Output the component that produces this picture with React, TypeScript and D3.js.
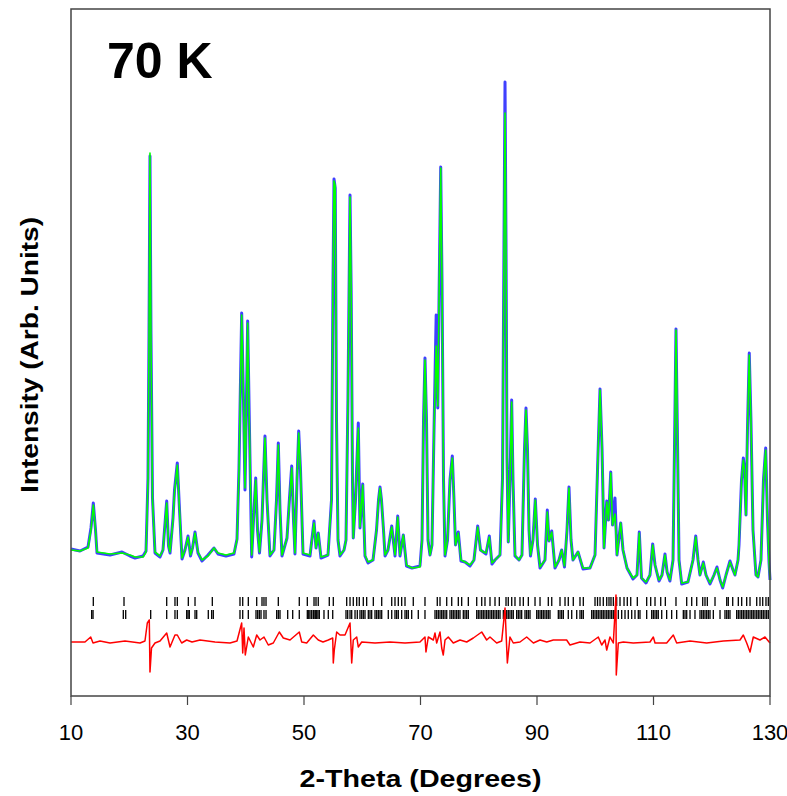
import React from "react";
import * as d3 from "d3";

// ---------- data (2-theta in degrees, intensity in arbitrary units) ----------
// rows: [2theta, observed, calculated]
const profile: [number, number, number][] = [
  [10.0,147,146],[11.55,145,145],[12.92,149,148],[13.43,168,166],[13.83,193,191],[14.21,166,166],[14.46,143,144],
  [16.7,141,142],[18.76,144,143],[20.13,140,141],[20.99,138,139],[22.36,140,139],[22.88,145,144],[23.22,218,216],
  [23.39,360,354],[23.56,540,543],[23.73,362,356],[23.99,198,196],[24.42,143,144],[25.28,139,140],[25.79,146,146],
  [26.43,195,193],[26.74,150,151],[27.0,143,144],[27.51,178,176],[27.77,206,204],[28.25,233,231],[28.63,186,186],
  [29.06,137,138],[29.57,146,146],[30.09,160,159],[30.52,140,141],[30.86,148,148],[31.29,164,163],[31.8,143,144],
  [32.49,135,136],[33.52,141,140],[34.55,148,148],[35.24,142,143],[36.61,140,141],[37.98,142,143],[38.5,157,156],
  [38.84,228,226],[39.3,383,381],[39.61,296,296],[39.87,206,208],[40.13,298,296],[40.33,375,373],[40.64,266,266],
  [41.02,139,141],[41.33,176,176],[41.71,218,216],[42.02,166,166],[42.36,143,144],[42.79,176,176],[43.3,260,258],
  [43.65,196,196],[44.16,140,141],[44.85,146,146],[45.28,196,196],[45.59,253,251],[45.88,186,186],[46.22,140,141],
  [47.08,158,158],[47.51,198,196],[47.89,230,228],[48.2,176,176],[48.45,142,143],[48.8,216,216],[49.09,265,263],
  [49.4,226,226],[49.83,142,143],[51.03,140,141],[51.72,175,173],[52.06,148,148],[52.45,163,163],[52.92,138,139],
  [54.12,141,141],[54.72,196,196],[54.98,416,416],[55.15,517,515],[55.36,508,510],[55.58,276,276],[55.84,156,156],
  [56.18,140,141],[56.87,146,146],[57.21,156,156],[57.55,298,296],[57.9,501,499],[58.1,404,406],[58.33,214,216],
  [58.46,158,158],[58.84,196,196],[59.32,273,268],[59.61,168,169],[60.08,212,211],[60.47,140,141],[60.99,133,134],
  [61.85,136,136],[62.45,166,166],[62.79,196,196],[63.05,209,208],[63.3,196,196],[63.65,166,166],[63.91,140,141],
  [64.42,146,146],[65.06,170,169],[65.63,140,141],[66.09,180,179],[66.48,140,141],[67.05,161,161],[67.6,130,131],
  [68.54,128,128],[69.91,130,129],[70.26,156,156],[70.52,276,276],[70.77,338,336],[71.03,276,276],[71.29,156,156],
  [71.63,141,141],[71.97,151,151],[72.32,266,266],[72.69,381,350],[72.97,288,290],[73.18,396,396],[73.47,529,528],
  [73.69,416,416],[73.95,216,216],[74.21,140,141],[74.64,156,156],[75.06,216,216],[75.46,240,238],[75.75,196,196],
  [76.01,151,151],[76.49,164,163],[76.95,135,136],[77.64,134,134],[78.5,130,131],[79.18,136,136],[79.82,170,169],
  [80.3,146,146],[80.78,144,144],[81.24,142,143],[81.81,160,159],[82.27,132,133],[82.79,136,136],[83.65,141,141],
  [84.08,218,216],[84.33,452,446],[84.51,614,583],[84.68,452,446],[84.85,238,236],[85.07,154,154],[85.36,216,216],
  [85.65,296,294],[85.88,216,216],[86.22,140,141],[86.91,136,136],[87.42,141,141],[87.85,246,246],[88.11,288,286],
  [88.37,246,246],[88.63,166,166],[88.88,140,141],[89.31,156,156],[89.71,197,196],[90.09,151,151],[90.52,128,129],
  [91.37,136,136],[91.77,186,184],[92.06,155,155],[92.53,165,164],[93.09,128,129],[93.78,136,136],[94.24,146,146],
  [94.72,129,130],[95.15,166,166],[95.49,209,208],[95.84,156,156],[96.18,136,136],[97.04,144,144],[97.9,127,128],
  [99.1,128,128],[99.96,141,141],[100.39,226,226],[100.82,307,306],[101.17,246,246],[101.51,148,148],[101.97,195,194],
  [102.28,176,176],[102.66,224,223],[102.96,171,171],[103.39,198,182],[103.73,141,141],[104.37,173,173],[104.76,146,146],
  [105.45,128,128],[106.48,117,118],[107.17,121,121],[107.56,164,163],[107.94,118,118],[108.71,113,114],[109.4,121,121],
  [109.86,152,151],[110.26,131,131],[110.94,115,116],[111.46,121,121],[111.97,142,141],[112.33,124,124],[112.82,115,116],
  [113.35,136,136],[113.6,246,246],[113.86,367,366],[114.12,256,256],[114.38,136,136],[114.84,112,113],[115.92,114,114],
  [116.78,136,136],[117.25,160,159],[117.64,136,136],[117.98,121,121],[118.55,134,133],[119.01,121,121],[119.7,112,113],
  [120.39,121,121],[120.9,129,128],[121.42,116,116],[121.88,108,109],[122.45,121,121],[123.13,135,134],[123.65,126,126],
  [123.99,121,121],[124.51,136,136],[124.68,151,151],[125.11,216,216],[125.42,238,236],[125.62,226,226],[125.88,181,181],
  [126.13,266,266],[126.44,343,341],[126.73,276,276],[127.08,166,166],[127.59,121,121],[127.94,119,119],[128.45,136,136],
  [128.88,216,216],[129.26,248,246],[129.57,176,176],[129.83,134,134],[130.0,116,116],
];

// difference curve: [2theta, obs - calc]
const difference: [number, number][] = [
  [10.0,0],[12.4,0],[13.38,5],[13.78,-1],[14.98,1],[16.7,-1],[19.27,1],[21.85,-1],[22.7,1],[23.1,19],[23.44,22],
  [23.56,-30],[23.82,-6],[24.42,-1],[25.28,1],[26.43,9],[27.0,-5],[27.85,7],[28.25,7],[29.0,-1],[29.86,2],[30.77,0],
  [32.15,2],[34.72,0],[37.3,-1],[38.5,1],[39.3,19],[39.48,-11],[39.7,14],[39.92,-13],[40.44,5],[41.3,-5],[41.88,7],
  [42.45,2],[43.13,5],[43.87,-3],[44.73,-1],[45.76,10],[46.45,4],[47.6,2],[49.19,10],[49.61,0],[50.46,-1],[51.6,7],
  [52.45,2],[53.26,0],[54.17,2],[54.93,4],[55.03,-21],[55.2,-8],[55.61,10],[56.18,7],[57.04,7],[57.9,19],[58.19,-21],
  [58.46,2],[59.05,5],[59.32,-5],[59.91,0],[62.19,-1],[64.76,0],[67.34,-1],[69.91,0],[70.77,5],[70.94,-10],[71.34,5],
  [72.2,2],[72.49,9],[72.78,-1],[73.35,10],[73.64,-6],[73.91,-13],[74.21,2],[74.77,5],[75.63,-1],[76.78,2],[77.93,0],
  [79.07,4],[80.51,10],[81.36,2],[81.93,5],[83.08,-1],[83.94,1],[84.51,34],[84.74,2],[84.91,-21],[85.36,5],[85.93,-1],
  [87.08,0],[88.23,5],[89.38,-1],[90.52,2],[91.67,0],[92.8,2],[95.09,2],[95.66,-3],[97.38,0],[99.1,-1],[100.52,5],
  [101.11,-3],[101.67,2],[101.97,-8],[102.53,5],[103.1,-1],[103.56,47],[103.61,-33],[103.96,-1],[104.82,0],[106.53,-1],
  [109.4,0],[109.97,5],[110.26,-1],[112.26,-1],[113.4,7],[113.98,-1],[116.27,1],[119.13,-1],[121.99,1],[124.85,2],
  [125.42,7],[126.0,-1],[126.57,-10],[127.13,5],[128.28,2],[129.14,5],[130.0,-1],
];

// Bragg reflection positions, phase 1 (upper row)
const braggPhase1: number[] = [
  13.83,19.1,26.43,27.85,28.25,30.14,31.29,34.26,39.01,39.48,40.44,41.88,42.79,43.13,43.48,45.59,49.19,50.57,51.72,
  52.06,52.45,54.34,55.03,57.33,57.9,58.46,59.05,59.49,60.18,60.76,61.9,63.34,65.06,65.62,66.19,66.77,67.34,68.76,
  70.77,72.88,73.35,74.5,75.36,76.49,77.07,78.21,79.65,80.51,81.07,81.93,82.79,83.53,84.68,85.07,85.66,86.22,87.08,
  87.65,88.51,89.66,90.52,91.94,92.53,93.95,94.81,95.37,96.23,97.38,97.95,99.96,100.39,100.82,101.38,101.97,102.36,
  102.7,103.1,103.68,104.25,104.94,105.5,106.09,107.22,108.83,109.52,110.26,111.24,112.03,113.86,115.7,116.56,117.42,
  118.45,118.84,119.24,120.56,122.57,122.84,123.6,124.56,125.14,126.0,126.57,127.72,128.28,128.75,129.31,129.71,
];

// Bragg reflection positions, phase 2 (lower row)
const braggPhase2: number[] = [
  13.55,13.78,18.98,19.39,23.68,26.43,27.85,28.25,29.86,30.09,30.31,31.29,31.58,33.57,34.15,34.43,39.01,39.48,40.44,
  41.76,42.05,42.33,42.62,43.13,43.48,45.31,45.59,45.88,47.2,48.06,49.19,50.57,50.81,51.03,51.32,51.6,51.72,51.94,
  52.18,52.4,52.63,53.43,54.17,54.93,57.21,57.5,57.9,58.19,58.76,59.15,59.61,59.91,60.18,60.47,61.04,61.33,61.62,
  62.19,62.48,62.76,63.05,63.34,64.47,65.06,65.62,65.91,66.19,66.77,67.34,67.63,67.91,68.49,69.62,70.77,72.49,72.78,
  73.06,73.35,73.64,73.91,74.21,74.5,75.06,75.36,75.63,75.92,76.21,76.49,76.78,77.35,77.64,77.93,78.21,79.65,79.92,
  80.21,80.51,80.78,81.07,81.36,81.64,81.93,82.22,82.5,82.79,83.08,83.36,83.65,84.22,84.8,85.07,85.36,85.66,85.93,
  86.51,86.79,87.08,87.37,87.94,88.23,88.51,88.8,89.95,90.22,90.52,90.8,91.08,91.37,91.67,91.94,92.23,93.66,93.95,
  94.24,94.52,95.37,95.96,96.82,97.38,97.67,97.95,99.39,99.67,99.96,100.25,100.52,100.82,101.11,101.38,101.67,101.97,
  102.24,102.53,102.82,103.1,103.39,103.96,104.54,105.11,105.67,106.26,106.82,107.39,107.68,108.83,109.69,109.97,
  110.26,110.55,110.82,111.41,112.26,113.12,113.98,115.12,115.41,115.7,116.27,117.12,117.98,118.28,118.55,118.84,
  119.13,119.41,119.7,120.27,121.42,122.27,122.57,122.84,123.13,124.28,124.56,124.85,125.14,125.42,125.71,126.0,
  126.27,126.57,126.86,127.13,127.42,127.72,127.99,128.28,128.57,128.85,129.14,129.43,129.71,
];

const xTicks: number[] = [10, 30, 50, 70, 90, 110, 130];
const xDomain: [number, number] = [10, 130];
const yDomain: [number, number] = [0, 687];
const tempLabel = "70 K";
const xTitle = "2-Theta (Degrees)";
const yTitle = "Intensity (Arb. Units)";

// ---------- layout ----------
const W = 787;
const H = 796;
const left = 71;
const right = 770;
const top = 9;
const bottom = 696;
const diffOffset = 54;
const font = "'Liberation Sans', Arial, Helvetica, sans-serif";

export default function App() {
  const x = d3.scaleLinear().domain(xDomain).range([left, right]);
  const y = d3.scaleLinear().domain(yDomain).range([bottom, top]);

  const obsLine = d3
    .line<[number, number, number]>()
    .x((d) => x(d[0]))
    .y((d) => y(d[1]));
  const calcLine = d3
    .line<[number, number, number]>()
    .x((d) => x(d[0]))
    .y((d) => y(d[2]));
  const diffLine = d3
    .line<[number, number]>()
    .x((d) => x(d[0]))
    .y((d) => y(diffOffset + d[1]));

  const row1 = [y(99), y(90)];
  const row2 = [y(86), y(77)];

  return (
    <svg
      width={W}
      height={H}
      style={{ position: "absolute", left: 0, top: 0, display: "block", background: "#fff" }}
    >
      <rect x={0} y={0} width={W} height={H} fill="#fff" />
      {/* Bragg markers */}
      <g stroke="#000" strokeWidth={1.3}>
        {braggPhase1.map((t, i) => (
          <line key={"a" + i} x1={x(t)} x2={x(t)} y1={row1[0]} y2={row1[1]} />
        ))}
        {braggPhase2.map((t, i) => (
          <line key={"b" + i} x1={x(t)} x2={x(t)} y1={row2[0]} y2={row2[1]} />
        ))}
      </g>
      {/* difference */}
      <path d={diffLine(difference) || ""} fill="none" stroke="#ff0000" strokeWidth={1.5} strokeLinejoin="round" />
      {/* observed */}
      <path d={obsLine(profile) || ""} fill="none" stroke="#0000ff" strokeWidth={3} strokeOpacity={0.75} strokeLinejoin="round" />
      {/* calculated */}
      <path d={calcLine(profile) || ""} fill="none" stroke="#00ff00" strokeWidth={1.6} strokeLinejoin="round" />

      {/* frame */}
      <rect x={left} y={top} width={right - left} height={bottom - top} fill="none" stroke="#444" strokeWidth={1.5} />
      {/* x ticks */}
      <g stroke="#444" strokeWidth={1.2}>
        {xTicks.map((t) => (
          <line key={t} x1={x(t)} x2={x(t)} y1={bottom} y2={bottom + 9} />
        ))}
      </g>
      <g fontFamily={font} fontSize={22} fill="#000" textAnchor="middle">
        {xTicks.map((t) => (
          <text key={t} x={x(t)} y={740}>
            {t}
          </text>
        ))}
      </g>
      <text x={(left + right) / 2} y={787} textAnchor="middle" fontFamily={font} fontWeight="bold" fontSize={24} textLength={242} lengthAdjust="spacingAndGlyphs">
        {xTitle}
      </text>
      <text
        transform={`translate(38, ${355}) rotate(-90)`}
        textAnchor="middle"
        fontFamily={font}
        fontWeight="bold"
        fontSize={24}
        textLength={276}
        lengthAdjust="spacingAndGlyphs"
      >
        {yTitle}
      </text>
      <text x={107} y={78} fontFamily={font} fontWeight="bold" fontSize={50}>
        {tempLabel}
      </text>
    </svg>
  );
}
